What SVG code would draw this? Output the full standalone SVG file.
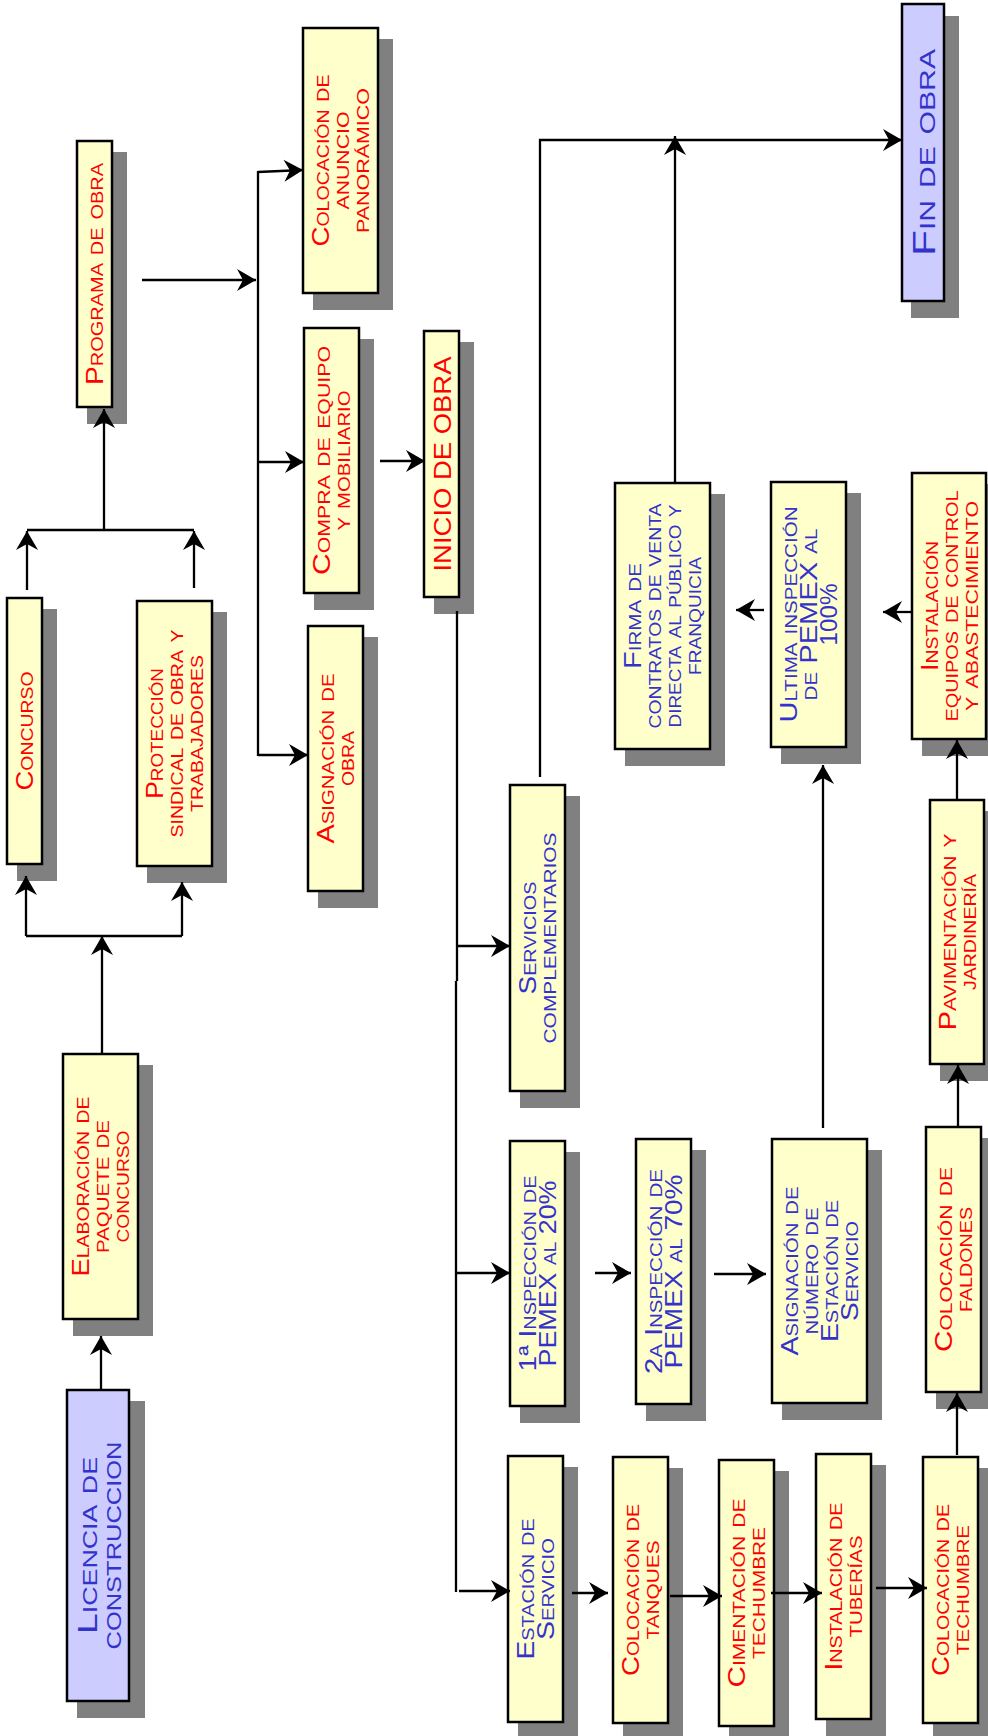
<svg xmlns="http://www.w3.org/2000/svg" width="988" height="1736" viewBox="0 0 988 1736">
<style>
.sh{fill:#808080}
.box{fill:#FFFFCC;stroke:#000;stroke-width:2.5}
.bbox{fill:#CCCCFF;stroke:#000;stroke-width:2.5}
.t{font-family:"Liberation Sans",Arial,sans-serif;font-size:24px;font-variant:small-caps;text-anchor:middle}
.big{font-size:31px}
.mid{font-size:28px}
.r{fill:#FF0000}
.b{fill:#3333CC}
.c{fill:none;stroke:#000;stroke-width:2.3}
.a{marker-end:url(#ah)}
</style>
<defs>
<marker id="ah" viewBox="-20 -12 21 24" markerWidth="21" markerHeight="24" refX="0" refY="0" orient="auto" markerUnits="userSpaceOnUse">
<path d="M0,0 L-19,-11 L-13,0 L-19,11 Z" fill="#000"/>
</marker>
</defs>

<g id="n-programa"><rect class="sh" x="87" y="152" width="40" height="272"/><rect class="box" x="77" y="141" width="35" height="266"/>
<g transform="translate(94.5,274) rotate(-90)"><text class="t r" y="8.5" textLength="222" lengthAdjust="spacingAndGlyphs">Programa de obra</text></g></g>

<g id="n-anuncio"><rect class="sh" x="313" y="39" width="80" height="271"/><rect class="box" x="303" y="28" width="75" height="265"/>
<g transform="translate(340.5,160.5) rotate(-90)">
<text class="t r" y="-11.5" textLength="172" lengthAdjust="spacingAndGlyphs">Colocación de</text>
<text class="t r" y="8.5" textLength="98" lengthAdjust="spacingAndGlyphs">anuncio</text>
<text class="t r" y="28.5" textLength="145" lengthAdjust="spacingAndGlyphs">panorámico</text></g></g>

<g id="n-compra"><rect class="sh" x="314" y="339" width="60" height="271"/><rect class="box" x="304" y="328" width="55" height="265"/>
<g transform="translate(331.5,460.5) rotate(-90)">
<text class="t r" y="-1.5" textLength="229" lengthAdjust="spacingAndGlyphs">Compra de equipo</text>
<text class="t r" y="18.5" textLength="140" lengthAdjust="spacingAndGlyphs">y mobiliario</text></g></g>

<g id="n-inicio"><rect class="sh" x="434" y="342" width="40" height="272"/><rect class="box" x="424" y="331" width="35" height="266"/>
<g transform="translate(441.5,464) rotate(-90)"><text class="t r" y="9" textLength="215" lengthAdjust="spacingAndGlyphs">INICIO DE OBRA</text></g></g>

<g id="n-asigobra"><rect class="sh" x="318" y="637" width="60" height="271"/><rect class="box" x="308" y="626" width="55" height="265"/>
<g transform="translate(335.5,758.5) rotate(-90)">
<text class="t r" y="-1.5" textLength="170" lengthAdjust="spacingAndGlyphs">Asignación de</text>
<text class="t r" y="18.5" textLength="55" lengthAdjust="spacingAndGlyphs">obra</text></g></g>

<g id="n-concurso"><rect class="sh" x="17" y="609" width="40" height="272"/><rect class="box" x="7" y="598" width="35" height="266"/>
<g transform="translate(24.5,731) rotate(-90)"><text class="t r" y="8.5" textLength="119" lengthAdjust="spacingAndGlyphs">Concurso</text></g></g>

<g id="n-proteccion"><rect class="sh" x="147" y="612" width="80" height="271"/><rect class="box" x="137" y="601" width="75" height="265"/>
<g transform="translate(174.5,733.5) rotate(-90)">
<text class="t r" y="-11.5" textLength="131" lengthAdjust="spacingAndGlyphs">Protección</text>
<text class="t r" y="8.5" textLength="208" lengthAdjust="spacingAndGlyphs">sindical de obra y</text>
<text class="t r" y="28.5" textLength="157" lengthAdjust="spacingAndGlyphs">trabajadores</text></g></g>

<g id="n-elaboracion"><rect class="sh" x="73" y="1065" width="80" height="271"/><rect class="box" x="63" y="1054" width="75" height="265"/>
<g transform="translate(100.5,1186.5) rotate(-90)">
<text class="t r" y="-11.5" textLength="180" lengthAdjust="spacingAndGlyphs">Elaboración de</text>
<text class="t r" y="8.5" textLength="133" lengthAdjust="spacingAndGlyphs">paquete de</text>
<text class="t r" y="28.5" textLength="112" lengthAdjust="spacingAndGlyphs">concurso</text></g></g>

<g id="n-licencia"><rect class="sh" x="77" y="1401" width="68" height="317"/><rect class="bbox" x="67" y="1390" width="62" height="311"/>
<g transform="translate(98,1545.5) rotate(-90)">
<text class="t b mid" y="-1" textLength="177" lengthAdjust="spacingAndGlyphs">Licencia de</text>
<text class="t b mid" y="23" textLength="208" lengthAdjust="spacingAndGlyphs">construccion</text></g></g>

<g id="n-fin"><rect class="sh" x="911" y="16" width="48" height="302"/><rect class="bbox" x="902" y="4" width="42" height="297"/>
<g transform="translate(923,152.5) rotate(-90)"><text class="t b big" y="12" textLength="207" lengthAdjust="spacingAndGlyphs">Fin de obra</text></g></g>

<g id="n-firma"><rect class="sh" x="625" y="494" width="100" height="272"/><rect class="box" x="615" y="483" width="95" height="266"/>
<g transform="translate(662.5,616) rotate(-90)">
<text class="t b" y="-21.5" textLength="106" lengthAdjust="spacingAndGlyphs">Firma de</text>
<text class="t b" y="-1.5" textLength="225" lengthAdjust="spacingAndGlyphs">contratos de venta</text>
<text class="t b" y="18.5" textLength="223" lengthAdjust="spacingAndGlyphs">directa al público y</text>
<text class="t b" y="38.5" textLength="118" lengthAdjust="spacingAndGlyphs">franquicia</text></g></g>

<g id="n-ultima"><rect class="sh" x="781" y="493" width="80" height="271"/><rect class="box" x="771" y="482" width="75" height="265"/>
<g transform="translate(808.5,614.5) rotate(-90)">
<text class="t b" y="-11.5" textLength="216" lengthAdjust="spacingAndGlyphs">Ultima inspección</text>
<text class="t b" y="8.5" textLength="172" lengthAdjust="spacingAndGlyphs">de PEMEX al</text>
<text class="t b" y="28.5" textLength="62" lengthAdjust="spacingAndGlyphs">100%</text></g></g>

<g id="n-instalacion-equipos"><rect class="sh" x="922" y="484" width="79" height="272"/><rect class="box" x="912" y="473" width="74" height="266"/>
<g transform="translate(949,606) rotate(-90)">
<text class="t r" y="-11.5" textLength="130" lengthAdjust="spacingAndGlyphs">Instalación</text>
<text class="t r" y="8.5" textLength="231" lengthAdjust="spacingAndGlyphs">equipos de control</text>
<text class="t r" y="28.5" textLength="210" lengthAdjust="spacingAndGlyphs">y abastecimiento</text></g></g>

<g id="n-servicios"><rect class="sh" x="520" y="796" width="60" height="312"/><rect class="box" x="510" y="785" width="55" height="306"/>
<g transform="translate(537.5,938) rotate(-90)">
<text class="t b" y="-1.5" textLength="113" lengthAdjust="spacingAndGlyphs">Servicios</text>
<text class="t b" y="18.5" textLength="211" lengthAdjust="spacingAndGlyphs">complementarios</text></g></g>

<g id="n-insp1"><rect class="sh" x="520" y="1152" width="60" height="271"/><rect class="box" x="510" y="1141" width="55" height="265"/>
<g transform="translate(537.5,1273.5) rotate(-90)">
<text class="t b" y="-1.5" textLength="196" lengthAdjust="spacingAndGlyphs">1ª Inspección de</text>
<text class="t b" y="18.5" textLength="186" lengthAdjust="spacingAndGlyphs">PEMEX al 20%</text></g></g>

<g id="n-insp2"><rect class="sh" x="646" y="1150" width="60" height="271"/><rect class="box" x="636" y="1139" width="55" height="265"/>
<g transform="translate(663.5,1271.5) rotate(-90)">
<text class="t b" y="-1.5" textLength="205" lengthAdjust="spacingAndGlyphs">2a Inspección de</text>
<text class="t b" y="18.5" textLength="194" lengthAdjust="spacingAndGlyphs">PEMEX al  70%</text></g></g>

<g id="n-asignumero"><rect class="sh" x="782" y="1150" width="100" height="270"/><rect class="box" x="772" y="1139" width="95" height="264"/>
<g transform="translate(819.5,1271) rotate(-90)">
<text class="t b" y="-21.5" textLength="169" lengthAdjust="spacingAndGlyphs">Asignación de</text>
<text class="t b" y="-1.5" textLength="127" lengthAdjust="spacingAndGlyphs">número de</text>
<text class="t b" y="18.5" textLength="142" lengthAdjust="spacingAndGlyphs">Estación de</text>
<text class="t b" y="38.5" textLength="100" lengthAdjust="spacingAndGlyphs">Servicio</text></g></g>

<g id="n-pavimentacion"><rect class="sh" x="940" y="811" width="59" height="270"/><rect class="box" x="930" y="800" width="54" height="264"/>
<g transform="translate(957,932) rotate(-90)">
<text class="t r" y="-1.5" textLength="197" lengthAdjust="spacingAndGlyphs">Pavimentación y</text>
<text class="t r" y="18.5" textLength="116" lengthAdjust="spacingAndGlyphs">jardinería</text></g></g>

<g id="n-faldones"><rect class="sh" x="936" y="1138" width="60" height="271"/><rect class="box" x="926" y="1127" width="55" height="265"/>
<g transform="translate(953.5,1259.5) rotate(-90)">
<text class="t r" y="-1.5" textLength="185" lengthAdjust="spacingAndGlyphs">Colocación de</text>
<text class="t r" y="18.5" textLength="105" lengthAdjust="spacingAndGlyphs">faldones</text></g></g>

<g id="n-estacion"><rect class="sh" x="518" y="1467" width="60" height="272"/><rect class="box" x="508" y="1456" width="55" height="266"/>
<g transform="translate(535.5,1589) rotate(-90)">
<text class="t b" y="-1.5" textLength="141" lengthAdjust="spacingAndGlyphs">Estación de</text>
<text class="t b" y="18.5" textLength="102" lengthAdjust="spacingAndGlyphs">Servicio</text></g></g>

<g id="n-tanques"><rect class="sh" x="623" y="1468" width="60" height="272"/><rect class="box" x="613" y="1457" width="55" height="266"/>
<g transform="translate(640.5,1590) rotate(-90)">
<text class="t r" y="-1.5" textLength="172" lengthAdjust="spacingAndGlyphs">Colocación de</text>
<text class="t r" y="18.5" textLength="99" lengthAdjust="spacingAndGlyphs">tanques</text></g></g>

<g id="n-cimentacion"><rect class="sh" x="729" y="1471" width="60" height="272"/><rect class="box" x="719" y="1460" width="55" height="266"/>
<g transform="translate(746.5,1593) rotate(-90)">
<text class="t r" y="-1.5" textLength="189" lengthAdjust="spacingAndGlyphs">Cimentación de</text>
<text class="t r" y="18.5" textLength="132" lengthAdjust="spacingAndGlyphs">techumbre</text></g></g>

<g id="n-tuberias"><rect class="sh" x="826" y="1465" width="60" height="271"/><rect class="box" x="816" y="1454" width="55" height="265"/>
<g transform="translate(843.5,1586.5) rotate(-90)">
<text class="t r" y="-1.5" textLength="168" lengthAdjust="spacingAndGlyphs">Instalación de</text>
<text class="t r" y="18.5" textLength="102" lengthAdjust="spacingAndGlyphs">tuberías</text></g></g>

<g id="n-techumbre"><rect class="sh" x="933" y="1468" width="60" height="272"/><rect class="box" x="923" y="1457" width="55" height="266"/>
<g transform="translate(950.5,1590) rotate(-90)">
<text class="t r" y="-1.5" textLength="172" lengthAdjust="spacingAndGlyphs">Colocación de</text>
<text class="t r" y="18.5" textLength="130" lengthAdjust="spacingAndGlyphs">techumbre</text></g></g>

<g id="connectors">
<path class="c a" d="M101,1391 L101,1336"/>
<path class="c a" d="M102,1054 L102,936"/>
<path class="c" d="M26,936 L182,936"/>
<path class="c a" d="M26,936 L26,876"/>
<path class="c a" d="M182,936 L182,882"/>
<path class="c a" d="M27,590 L27,531"/>
<path class="c a" d="M194,588 L194,531"/>
<path class="c" d="M27,530 L194,530"/>
<path class="c a" d="M104,530 L104,409"/>
<path class="c a" d="M142,280 L256,280"/>
<path class="c" d="M258,171 L258,756"/>
<path class="c a" d="M258,172 L303,170"/>
<path class="c a" d="M258,462 L304,462"/>
<path class="c a" d="M258,755 L308,755"/>
<path class="c a" d="M380,461 L425,461"/>
<path class="c" d="M457,611 L457,981"/>
<path class="c" d="M456,981 L456,1592"/>
<path class="c a" d="M457,946 L510,946"/>
<path class="c a" d="M456,1273 L510,1273"/>
<path class="c a" d="M459,1591 L510,1591"/>
<path class="c a" d="M595,1273 L631,1273"/>
<path class="c a" d="M714,1274 L766,1274"/>
<path class="c a" d="M823,1128 L823,765"/>
<path class="c a" d="M572,1593 L608,1593"/>
<path class="c a" d="M670,1596 L722,1596"/>
<path class="c a" d="M771,1593 L822,1593"/>
<path class="c a" d="M876,1588 L927,1588"/>
<path class="c a" d="M957,1455 L957,1393"/>
<path class="c a" d="M958,1127 L958,1065"/>
<path class="c a" d="M957,799 L957,740"/>
<path class="c a" d="M912,612 L883,612"/>
<path class="c a" d="M764,610 L736,610"/>
<path class="c a" d="M675,483 L675,136"/>
<path class="c a" d="M540,777 L540,140 L902,140"/>
</g>
</svg>
